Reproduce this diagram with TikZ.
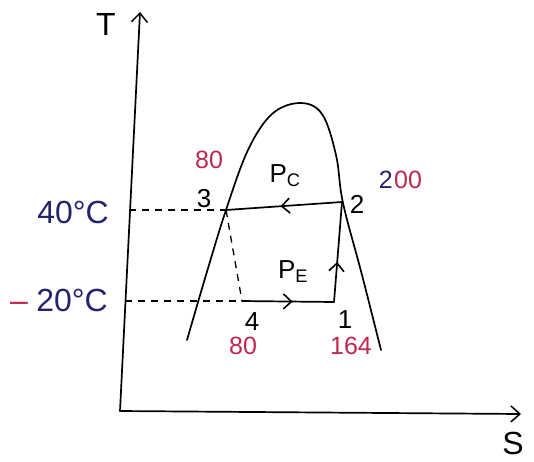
\documentclass[tikz,border=0pt]{standalone}
\usepackage{fontspec}
\setmainfont{Liberation Sans}
\usetikzlibrary{arrows.meta,decorations.markings}
\definecolor{inkblue}{RGB}{35,35,110}
\definecolor{inkred}{RGB}{190,40,80}
\tikzset{
  ink/.style={line width=1.7pt, line cap=round, line join=round, black},
  guide/.style={line width=1.3pt, dash pattern=on 7pt off 6pt, black},
  midarrow/.style={postaction={decorate}, decoration={markings,
      mark=at position #1 with {\arrow{Straight Barb[length=8pt,width=15pt,line width=1.6pt]}}}},
  lbl/.style={font=\fontsize{26}{30}\selectfont, inner sep=1pt},
  redlbl/.style={lbl, text=inkred, font=\fontsize{25}{28}\selectfont},
  bluelbl/.style={lbl, text=inkblue, font=\fontsize{32}{36}\selectfont},
}
\begin{document}
\begin{tikzpicture}[x=1pt,y=-1pt]
\useasboundingbox (0,0) rectangle (534,461);
% axes
\coordinate (O) at (120,411);
\coordinate (Ttip) at (140,12);
\coordinate (Stip) at (521,414);
\draw[ink,-{Straight Barb[length=9pt,width=16pt,line width=1.5pt]}] (O) -- (Ttip);
\draw[ink,-{Straight Barb[length=9pt,width=16pt,line width=1.5pt]}] (O) -- (Stip);
\node[lbl,font=\fontsize{32}{36}\selectfont] (Tl) at (106,24) {T};
\node[lbl,font=\fontsize{32}{36}\selectfont] (Sl) at (513,443) {S};
% dome
\draw[ink] plot[smooth,tension=0.6] coordinates {(187,340) (206,275) (226,210) (248,150) (272,114) (300,103) (322,114) (336,155) (343,203) (362,275) (381,350)};
% cycle points
\coordinate (p3) at (226,210);
\coordinate (p2) at (342,202);
\coordinate (p1) at (334,302);
\coordinate (p4) at (242,301);
\coordinate (a40) at (129,210);
\coordinate (a20) at (125,301);
% dashed guides
\draw[guide] (a40) -- (p3);
\draw[guide] (a20) -- (p4);
\draw[guide] (p3) -- (p4);
% cycle
\draw[ink,midarrow=0.53] (p2) -- (p3);
\draw[ink,midarrow=0.55] (p4) -- (p1);
\draw[ink,midarrow=0.4] (p1) -- (p2);
% labels
\node[bluelbl] (t40) at (73,212) {40°C};
\node[bluelbl] (t20) at (72,300) {20°C};
\node[lbl, text=inkred, font=\fontsize{32}{36}\selectfont, anchor=base east, xshift=-6pt] (m20) at (t20.base west) {–};
\node[lbl] (l3) at (204,199) {3};
\node[lbl] (l2) at (357,204) {2};
\node[lbl] (l4) at (252,322) {4};
\node[lbl] (l1) at (345,320) {1};
\node[lbl] (pc) at (285,176) {P\textsubscript{C}};
\node[lbl] (pe) at (293,272) {P\textsubscript{E}};
\node[redlbl] (h3) at (209,160) {80};
\node[redlbl] (h2) at (408,180) {00};
\node[redlbl, text=inkblue, anchor=east, inner xsep=0pt] (h2a) at (h2.west) {2};
\node[redlbl] (h4) at (243,346) {80};
\node[redlbl] (h1) at (351,346) {164};
\end{tikzpicture}
\end{document}
